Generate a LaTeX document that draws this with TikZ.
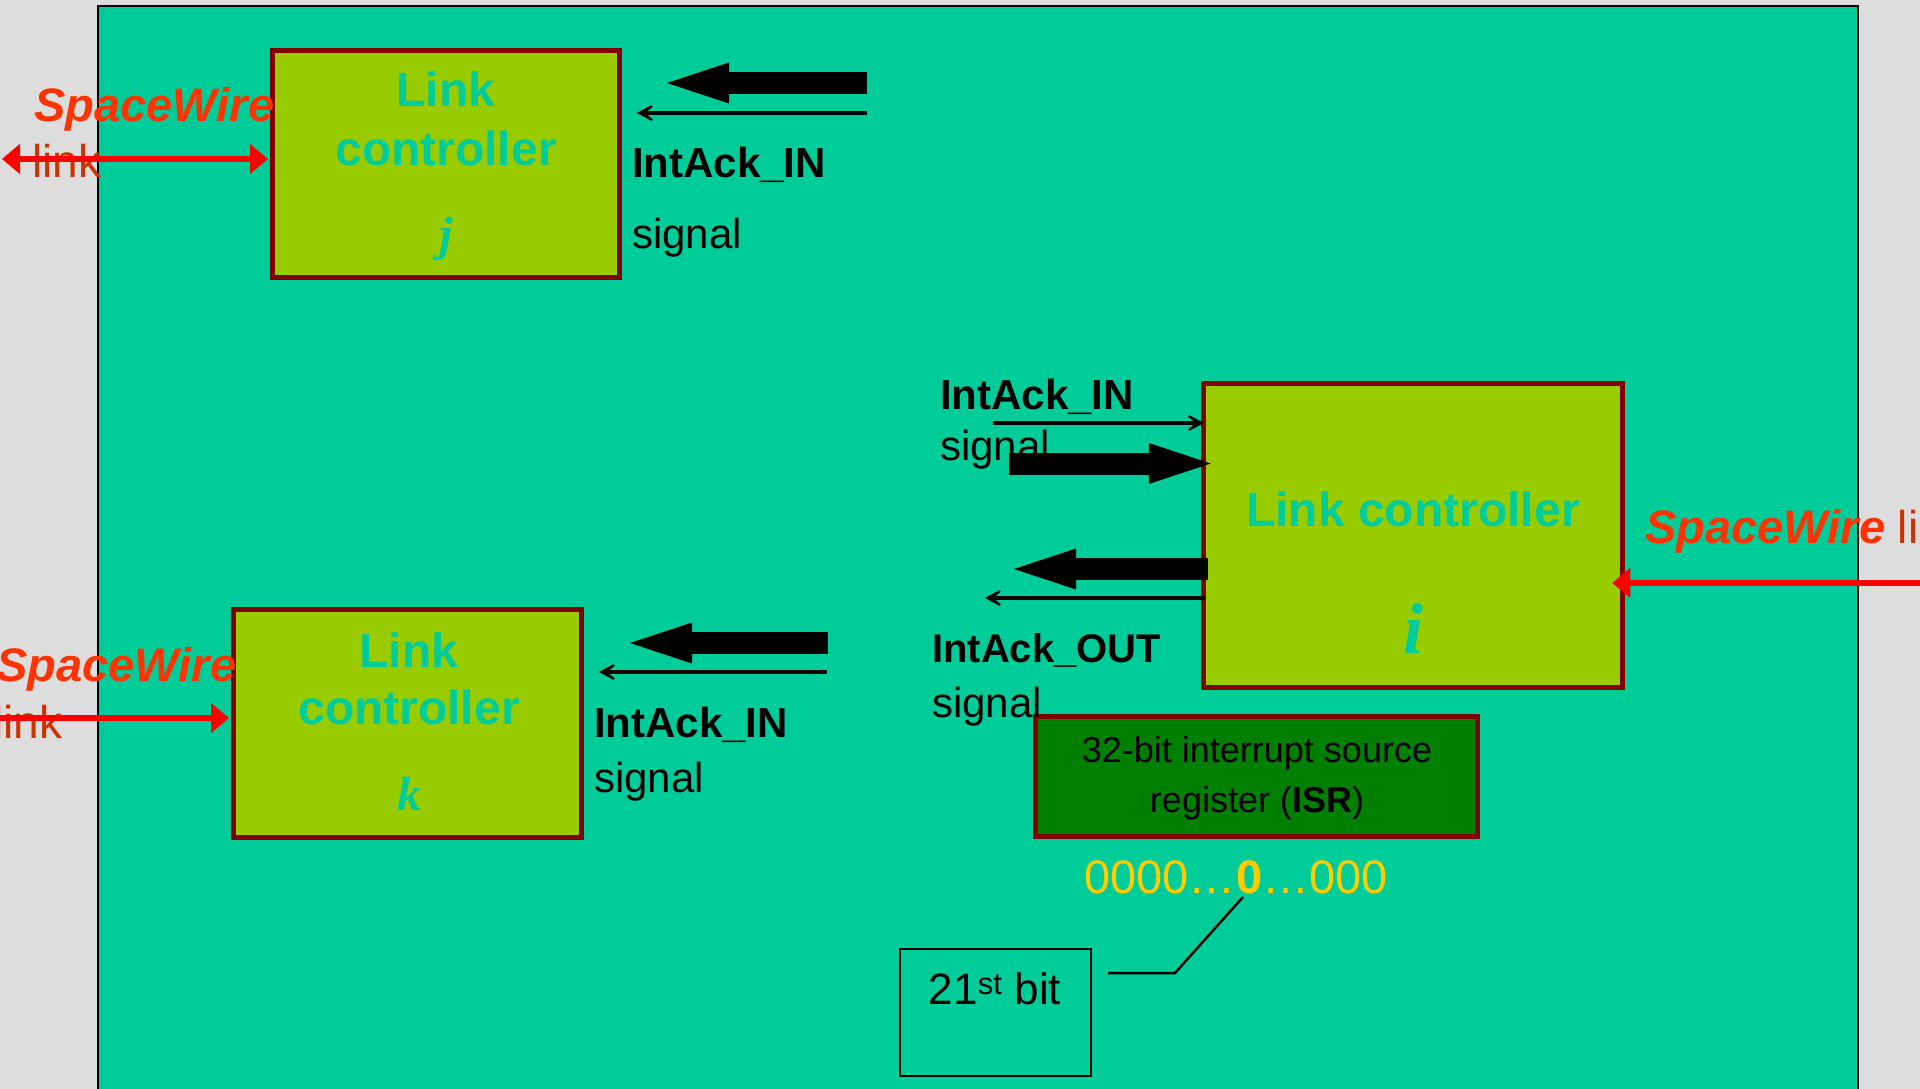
\documentclass[tikz,border=0pt]{standalone}
\usepackage{fontspec}
\setmainfont{Liberation Sans}
\newfontfamily\seriffam{Liberation Serif}
\usetikzlibrary{arrows.meta,calc}
\definecolor{bggray}{HTML}{DDDDDD}
\definecolor{panel}{HTML}{00CC99}
\definecolor{lcfill}{HTML}{99CC00}
\definecolor{lcborder}{HTML}{800000}
\definecolor{isrfill}{HTML}{007F00}
\definecolor{swred}{HTML}{FF3300}
\definecolor{linkred}{HTML}{CC3300}
\definecolor{bitsyellow}{HTML}{FFCC00}
\definecolor{arrowred}{HTML}{FF0000}
\begin{document}
\begin{tikzpicture}[x=1pt,y=-1pt,
  lcbox/.style={draw=lcborder, fill=lcfill, line width=5pt, rectangle, inner sep=0pt},
  lctext/.style={text=panel, font=\fontsize{48}{56}\selectfont\bfseries, inner sep=0pt, anchor=base},
  lcid/.style={text=panel, font=\seriffam\bfseries\itshape\fontsize{48}{56}\selectfont, inner sep=0pt, anchor=base},
  siglabel/.style={font=\fontsize{42}{50}\selectfont\bfseries, inner sep=0pt, anchor=base west},
  sigword/.style={font=\fontsize{42}{50}\selectfont, inner sep=0pt, anchor=base west},
  swlabel/.style={text=swred, font=\fontsize{47}{56}\selectfont\bfseries\itshape, inner sep=0pt, anchor=base west},
  linklabel/.style={text=linkred, font=\fontsize{46}{55}\selectfont, inner sep=0pt, anchor=base west},
  thinarrow/.style={line width=3.5pt, -{Stealth[length=24pt,width=26pt,inset=16pt]}},
  blockarrow/.style={line width=22pt, -{Triangle[length=62pt,width=41pt,line width=0pt]}},
  redarrow/.style={color=arrowred, line width=5.5pt, -{Triangle[length=18pt,width=29pt]}},
  redarrowboth/.style={color=arrowred, line width=5.5pt, {Triangle[length=18pt,width=29pt]}-{Triangle[length=18pt,width=29pt]}},
  isrtext/.style={font=\fontsize{36}{44}\selectfont, inner sep=0pt, anchor=base}
]
\useasboundingbox (0,0) rectangle (1920,1089);
\fill[bggray] (0,0) rectangle (1920,1089);
\filldraw[fill=panel, draw=black, line width=2pt] (98,6) rectangle (1858,1110);

% boxes
\node[lcbox, minimum width=347pt, minimum height=227pt] (lcj) at (446,164) {};
\node[lcbox, minimum width=419.5pt, minimum height=304pt] (lci) at (1413,535.5) {};
\node[lcbox, minimum width=348pt, minimum height=228pt] (lck) at (407.5,723.5) {};
\node[draw=lcborder, fill=isrfill, line width=5pt, minimum width=442pt, minimum height=120pt, inner sep=0pt] (isr) at (1256.5,776.5) {};
\node[draw=black, line width=2.5pt, minimum width=191pt, minimum height=127pt, inner sep=0pt] (bitbox) at (995.5,1012.5) {};

% box texts
\node[lctext] (lcjt1) at (446,107) {Link};
\node[lctext] (lcjt2) at (446,165) {controller};
\node[lcid] (lcjid) at (446,250) {j};
\node[lctext] (lckt1) at (409,667) {Link};
\node[lctext] (lckt2) at (409,724) {controller};
\node[lcid] (lckid) at (409,810) {k};
\node[lctext] (lcit) at (1413,526) {Link controller};
\node[lcid, font=\seriffam\bfseries\itshape\fontsize{72}{80}\selectfont] (lciid) at (1413,653) {i};

% signal labels
\node[siglabel] (jsig1) at (632,178) {IntAck\_IN};
\node[sigword] (jsig2) at (632,248) {signal};
\node[siglabel] (isig1) at (940,409) {IntAck\_IN};
\node[sigword] (isig2) at (940,460) {signal};
\node[siglabel, font=\fontsize{40}{48}\selectfont\bfseries] (osig1) at (932,662) {IntAck\_OUT};
\node[sigword] (osig2) at (932,717) {signal};
\node[siglabel] (ksig1) at (594,737) {IntAck\_IN};
\node[sigword] (ksig2) at (594,792) {signal};

% SpaceWire labels
\node[swlabel] (swj) at (34,122) {SpaceWire};
\node[linklabel] (swjl) at (32,178) {link};
\node[swlabel] (swk) at (-4,681) {SpaceWire};
\node[linklabel] (swkl) at (-7,738) {link};
\node[swlabel] (swi) at (1645,543) {SpaceWire\textcolor{linkred}{\normalfont\fontsize{46}{55}\selectfont\ link}};

% ISR texts
\node[isrtext] (isr1) at (1257,762) {32-bit interrupt source};
\node[isrtext] (isr2) at (1257,812) {register (\textbf{ISR})};
\node[text=bitsyellow, font=\fontsize{47}{56}\selectfont, inner sep=0pt, anchor=base] (bits) at (1236,893) {0000…\textbf{0}…000};
\node[font=\fontsize{44}{52}\selectfont, inner sep=0pt, anchor=base] (bittxt) at (995,1004) {21\textsuperscript{st} bit};

% coordinates
\coordinate (jBlkTail) at (867,83);
\coordinate (jBlkTip) at (667,83);
\coordinate (jThinTail) at (867,113);
\coordinate (jThinTip) at (637,113);
\coordinate (iInThinTail) at (993,423);
\coordinate (iInBlkTail) at (1009,463.5);
\coordinate (iOutBlkTip) at (1014,569);
\coordinate (iOutThinTip) at (985,598);
\coordinate (kBlkTail) at (828,643);
\coordinate (kBlkTip) at (630,643);
\coordinate (kThinTail) at (827,672);
\coordinate (kThinTip) at (599,672);
\coordinate (swjEnd) at (2,159);
\coordinate (swkEnd) at (-5,718);
\coordinate (swiEnd) at (1930,583);
\coordinate (bitZero) at (1243,897);
\coordinate (bitBend) at (1175,973);
\coordinate (bitEnd) at (1108,973);

% black arrows
\draw[blockarrow] (jBlkTail) -- (jBlkTip);
\draw[thinarrow] (jThinTail) -- (jThinTip);
\draw[thinarrow] (iInThinTail) -- ($(lci.west |- iInThinTail)+(3,0)$);
\draw[blockarrow] (iInBlkTail) -- ($(lci.west |- iInBlkTail)+(10,0)$);
\draw[blockarrow] ($(lci.west |- iOutBlkTip)+(7,0)$) -- (iOutBlkTip);
\draw[thinarrow] ($(lci.west |- iOutThinTip)+(4,0)$) -- (iOutThinTip);
\draw[blockarrow] (kBlkTail) -- (kBlkTip);
\draw[thinarrow] (kThinTail) -- (kThinTip);

% red arrows
\draw[redarrowboth] (swjEnd) -- ($(lcj.west |- swjEnd)+(-2,0)$);
\draw[redarrow] (swkEnd) -- ($(lck.west |- swkEnd)+(-2,0)$);
\draw[redarrow] (swiEnd) -- ($(lci.east |- swiEnd)+(-13,0)$);

% bit pointer
\draw[line width=2.5pt] (bitZero) -- (bitBend) -- (bitEnd);
\end{tikzpicture}
\end{document}
